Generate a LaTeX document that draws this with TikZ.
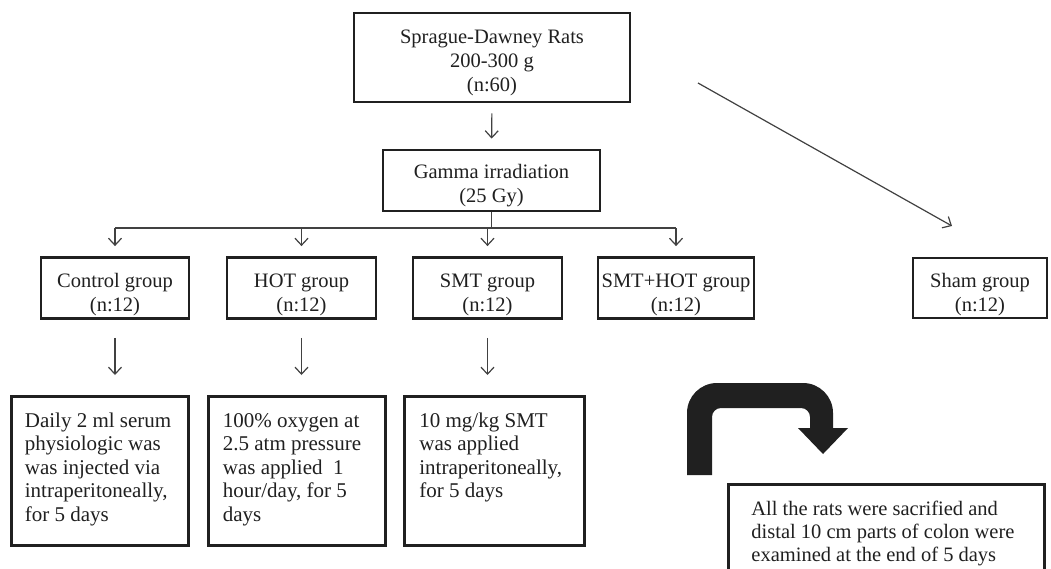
\documentclass[tikz,border=0pt]{standalone}
\usepackage{fontspec}
\setmainfont{Liberation Serif}
\usetikzlibrary{arrows.meta}
\definecolor{ink}{RGB}{32,32,32}
\definecolor{wire}{RGB}{65,65,65}
\newcommand{\lines}[3]{\parbox[t][#1][t]{#2}{\begin{tabular}[t]{@{}l@{}}#3\end{tabular}}}
\newcommand{\low}[2][5pt]{\raisebox{-#1}[\height][\depth]{\begin{tabular}{@{}c@{}}#2\end{tabular}}}
\tikzset{
  box/.style={draw=ink, line width=2.8pt, rectangle, inner sep=0pt, text=ink,
    font=\fontsize{20.5}{24}\selectfont},
  detail/.style={draw=ink, line width=2.8pt, rectangle, inner xsep=12pt, inner ysep=12pt,
    text=ink, font=\fontsize{21}{23.5}\selectfont, anchor=north west},
  wireline/.style={draw=wire, line width=1.2pt},
  arr/.style={wireline, -{Straight Barb[length=7pt,width=13pt,line width=1.2pt]}},
}
\begin{document}
\begin{tikzpicture}[x=1pt,y=-1pt]
\clip (0,0) rectangle (1051,568);
\fill[white] (0,0) rectangle (1051,568);

% top nodes
\node[box, minimum width=276pt, minimum height=89pt] (rats) at (492,57.5)
  {\low{Sprague-Dawney Rats\\200-300 g\\(n:60)}};
\node[box, minimum width=217pt, minimum height=61pt] (gamma) at (491.5,180.5)
  {\low{Gamma irradiation\\(25 Gy)}};

% group nodes
\node[box, minimum width=148pt, minimum height=61pt] (ctrl) at (115,288) {\low[7pt]{Control group\\(n:12)}};
\node[box, minimum width=149pt, minimum height=61pt] (hot) at (301.5,288) {\low[7pt]{HOT group\\(n:12)}};
\node[box, minimum width=149pt, minimum height=61pt] (smt) at (487.5,288) {\low[7pt]{SMT group\\(n:12)}};
\node[box, minimum width=156pt, minimum height=61pt] (smthot) at (676,288) {\low[7pt]{SMT+HOT group\\(n:12)}};
\node[box, minimum width=134pt, minimum height=60pt] (sham) at (980,288) {\low[7pt]{Sham group\\(n:12)}};

% detail nodes
\node[detail, minimum width=177pt, minimum height=149pt] (cdet) at (10,395)
  {\lines{120pt}{150pt}{Daily 2 ml serum\\physiologic was\\was injected via\\intraperitoneally,\\for 5 days}};
\node[detail, inner xsep=14pt, minimum width=177pt, minimum height=149pt] (hdet) at (207,395)
  {\lines{120pt}{148pt}{100\% oxygen at\\2.5 atm pressure\\was applied\ \ 1\\hour/day, for 5\\days}};
\node[detail, inner xsep=14pt, minimum width=180pt, minimum height=149pt] (sdet) at (403,395)
  {\lines{120pt}{150pt}{10 mg/kg SMT\\was applied\\intraperitoneally,\\for 5 days}};
\node[detail, inner xsep=22pt, inner ysep=15pt, minimum width=316pt, minimum height=110pt,
  font=\fontsize{20.5}{23}\selectfont] (final) at (727,483)
  {\lines{80pt}{270pt}{All the rats were sacrified and\\distal 10 cm parts of colon were\\examined at the end of 5 days}};

% connectors
\draw[arr, shorten <=10pt, shorten >=10pt] (rats.south) -- (gamma.north);
\coordinate (bus) at (491.5,228);
\draw[wireline] (gamma.south) -- (bus);
\draw[wireline] (ctrl.north |- bus) -- (smthot.north |- bus);
\foreach \n in {ctrl,hot,smt,smthot}
  \draw[arr, shorten >=10pt] (\n.north |- bus) -- (\n.north);
\draw[arr, shorten <=18pt, shorten >=20pt] (ctrl.south) -- (ctrl.south |- cdet.north);
\draw[arr, shorten <=18pt, shorten >=20pt] (hot.south) -- (hot.south |- hdet.north);
\draw[arr, shorten <=18pt, shorten >=20pt] (smt.south) -- (smt.south |- sdet.north);

\coordinate (d1) at (698,83);
\coordinate (d2) at (952,226);
\draw[arr] (d1) -- (d2);

% thick U-turn arrow
\fill[ink] (687,475) [rounded corners=30pt] -- (687,383) -- (833,383) [sharp corners] -- (833,428)
  -- (848,428) -- (823,454) -- (798,428) -- (810,428) [rounded corners=9pt] -- (810,408) -- (712,408)
  [sharp corners] -- (712,475) -- cycle;
\end{tikzpicture}
\end{document}
